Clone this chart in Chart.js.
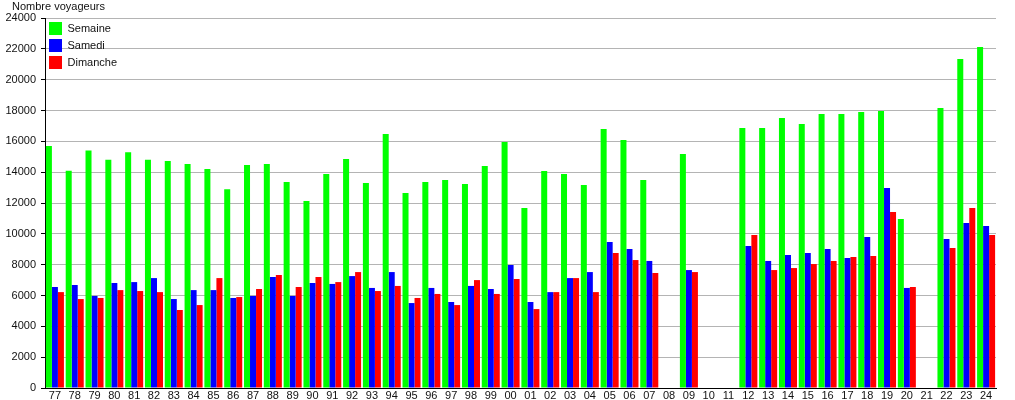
<!DOCTYPE html>
<html>
<head>
<meta charset="utf-8">
<script src="https://cdn.jsdelivr.net/npm/chart.js@4.4.1/dist/chart.umd.min.js"></script>
<style>
  html, body { margin: 0; padding: 0; background: #fff; }
  #wrap { width: 1015px; height: 400px; }
</style>
</head>
<body>
<div id="wrap"><canvas id="voyChart"></canvas></div>
<script>
const years = ['77', '78', '79', '80', '81', '82', '83', '84', '85', '86', '87', '88',
    '89', '90', '91', '92', '93', '94', '95', '96', '97', '98', '99', '00',
    '01', '02', '03', '04', '05', '06', '07', '08', '09', '10', '11', '12',
    '13', '14', '15', '16', '17', '18', '19', '20', '21', '22', '23', '24'];

const semaine = [15700, 14100, 15400, 14800, 15300, 14800, 14720, 14530, 14200, 12900, 14470, 14530,
    13360, 12130, 13880, 14850, 13300, 16480, 12650, 13360, 13490, 13230, 14400, 15960,
    11680, 14080, 13880, 13170, 16800, 16090, 13490, null, 15180, null, null, 16860,
    16860, 17510, 17120, 17770, 17770, 17900, 17970, 10960, null, 18160, 21340, 22120];

const samedi = [6550, 6680, 5970, 6810, 6870, 7130, 5770, 6350, 6350, 5840, 5970, 7200,
    5970, 6810, 6750, 7260, 6490, 7520, 5510, 6490, 5580, 6620, 6420, 7980,
    5580, 6220, 7130, 7520, 9470, 9020, 8240, null, 7650, null, null, 9210,
    8240, 8630, 8760, 9020, 8430, 9790, 12970, 6490, null, 9660, 10700, 10510];

const dimanche = [6220, 5770, 5840, 6350, 6290, 6220, 5060, 5380, 7130, 5900, 6420, 7330,
    6550, 7200, 6870, 7520, 6290, 6620, 5840, 6100, 5380, 7000, 6100, 7070,
    5120, 6220, 7130, 6220, 8760, 8300, 7460, null, 7520, null, null, 9920,
    7650, 7780, 8040, 8240, 8500, 8560, 11420, 6550, null, 9080, 11680, 9920];

const yTitle = 'Nombre voyageurs';

const font = { family: 'Liberation Sans, Arial, sans-serif', size: 11 };

// small caption above the y axis
const yCaption = {
    id: 'yCaption',
    afterDraw(chart) {
        const ctx = chart.ctx;
        ctx.save();
        ctx.font = '11px Liberation Sans, Arial, sans-serif';
        ctx.fillStyle = '#111';
        ctx.textAlign = 'left';
        ctx.textBaseline = 'middle';
        ctx.fillText(yTitle, 12, 7);
        ctx.restore();
    },
};

new Chart(document.getElementById('voyChart'), {
    type: 'bar',
    data: {
        labels: years,
        datasets: [
            { label: 'Semaine', data: semaine, backgroundColor: '#00ff00' },
            { label: 'Samedi', data: samedi, backgroundColor: '#0000ff' },
            { label: 'Dimanche', data: dimanche, backgroundColor: '#ff0000' },
        ],
    },
    plugins: [yCaption],
    options: {
        responsive: true,
        maintainAspectRatio: false,
        animation: false,
        categoryPercentage: 0.91,
        barPercentage: 1.0,
        borderWidth: 0,
        layout: { padding: { left: 0, right: 19, top: 18, bottom: 0 } },
        plugins: {
            title: { display: false },
            legend: {
                position: 'chartArea',
                align: 'start',
                title: {
                    // empty title only pushes the items down into the plot
                    display: true,
                    text: ' ',
                    font: { ...font, lineHeight: 1 },
                    padding: { top: 0, bottom: 7 },
                },
                labels: {
                    boxWidth: 13,
                    boxHeight: 13,
                    padding: 4,
                    color: '#111',
                    font: font,
                },
            },
            tooltip: { enabled: false },
        },
        scales: {
            x: {
                grid: { display: false, drawTicks: false },
                border: { color: '#000', width: 1 },
                ticks: {
                    color: '#111',
                    font: font,
                    padding: 1,
                    autoSkip: false,
                    maxRotation: 0,
                },
                afterFit: (scale) => { scale.height = 12; },
            },
            y: {
                min: 0,
                max: 24000,
                border: { color: '#000', width: 1 },
                grid: {
                    color: (ctx) => ctx.tick && ctx.tick.value % 2000 === 0 ? '#b4b4b4' : 'rgba(0,0,0,0)',
                    tickColor: '#000',
                    tickLength: 4,
                },
                ticks: {
                    stepSize: 1000,
                    color: '#111',
                    font: font,
                    padding: 5,
                    callback: (v) => v % 2000 === 0 ? String(v) : '',
                },
                afterFit: (scale) => { scale.width = 45; },
            },
        },
    },
});
</script>
</body>
</html>
